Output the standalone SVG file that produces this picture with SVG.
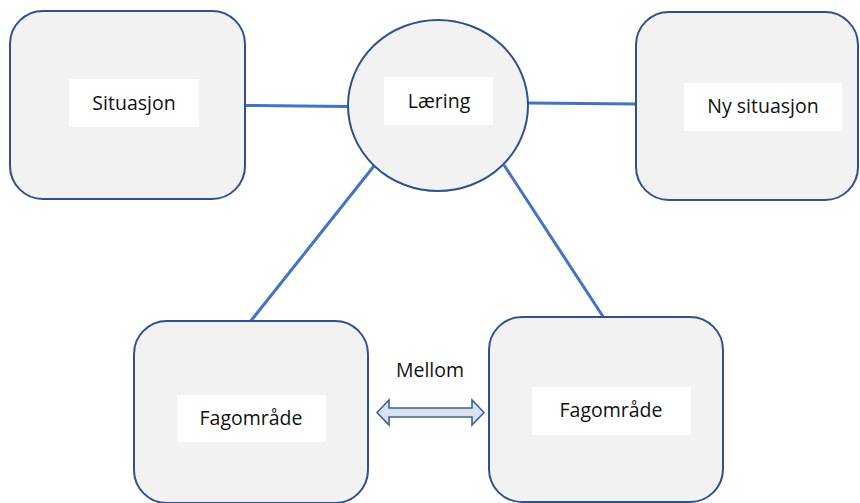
<svg xmlns="http://www.w3.org/2000/svg" width="860" height="503" viewBox="0 0 860 503">
  <style>
    .box { fill: #f2f2f2; stroke: #2f528f; stroke-width: 2; }
    .label-bg { fill: #ffffff; }
    .label { font-family: "Open Sans", "Noto Sans", sans-serif; font-size: 19.5px; fill: #111111; text-anchor: middle; }
    .link { stroke: #4472c4; stroke-width: 3; fill: none; }
    .dbl-arrow { fill: #dae3f3; stroke: #41628f; stroke-width: 1.6; stroke-linejoin: miter; }
  </style>

  <!-- connectors -->
  <g id="connectors">
    <line class="link" x1="245" y1="105.5" x2="348" y2="106.5"/>
    <line class="link" x1="528" y1="103" x2="636" y2="104"/>
    <line class="link" x1="374" y1="166" x2="250" y2="322"/>
    <line class="link" x1="504" y1="165" x2="604" y2="318"/>
    <polygon class="dbl-arrow" points="377,412.5 389,400 389,408 472,408 472,400 484,412.5 472,425 472,417 389,417 389,425"/>
  </g>

  <g id="node-situasjon">
    <rect class="box" x="10" y="11" width="235" height="188" rx="33" ry="33"/>
    <rect class="label-bg" x="69" y="79" width="130" height="48"/>
    <text class="label" x="134" y="110">Situasjon</text>
  </g>

  <g id="node-laering">
    <ellipse class="box" cx="438" cy="105.5" rx="90" ry="85.5"/>
    <rect class="label-bg" x="384" y="77" width="109" height="48"/>
    <text class="label" x="439" y="108">Læring</text>
  </g>

  <g id="node-ny-situasjon">
    <rect class="box" x="636" y="12" width="222" height="188" rx="33" ry="33"/>
    <rect class="label-bg" x="684" y="83" width="158" height="48"/>
    <text class="label" x="763" y="113">Ny situasjon</text>
  </g>

  <g id="node-fagomrade-1">
    <rect class="box" x="134" y="321" width="234" height="182" rx="33" ry="33"/>
    <rect class="label-bg" x="177" y="395" width="149" height="47"/>
    <text class="label" x="251" y="425">Fagområde</text>
  </g>

  <g id="node-fagomrade-2">
    <rect class="box" x="489" y="317" width="234" height="185" rx="33" ry="33"/>
    <rect class="label-bg" x="532" y="387" width="159" height="48"/>
    <text class="label" x="611" y="417">Fagområde</text>
  </g>

  <g id="label-mellom">
    <text class="label" x="430" y="377">Mellom</text>
  </g>
</svg>
